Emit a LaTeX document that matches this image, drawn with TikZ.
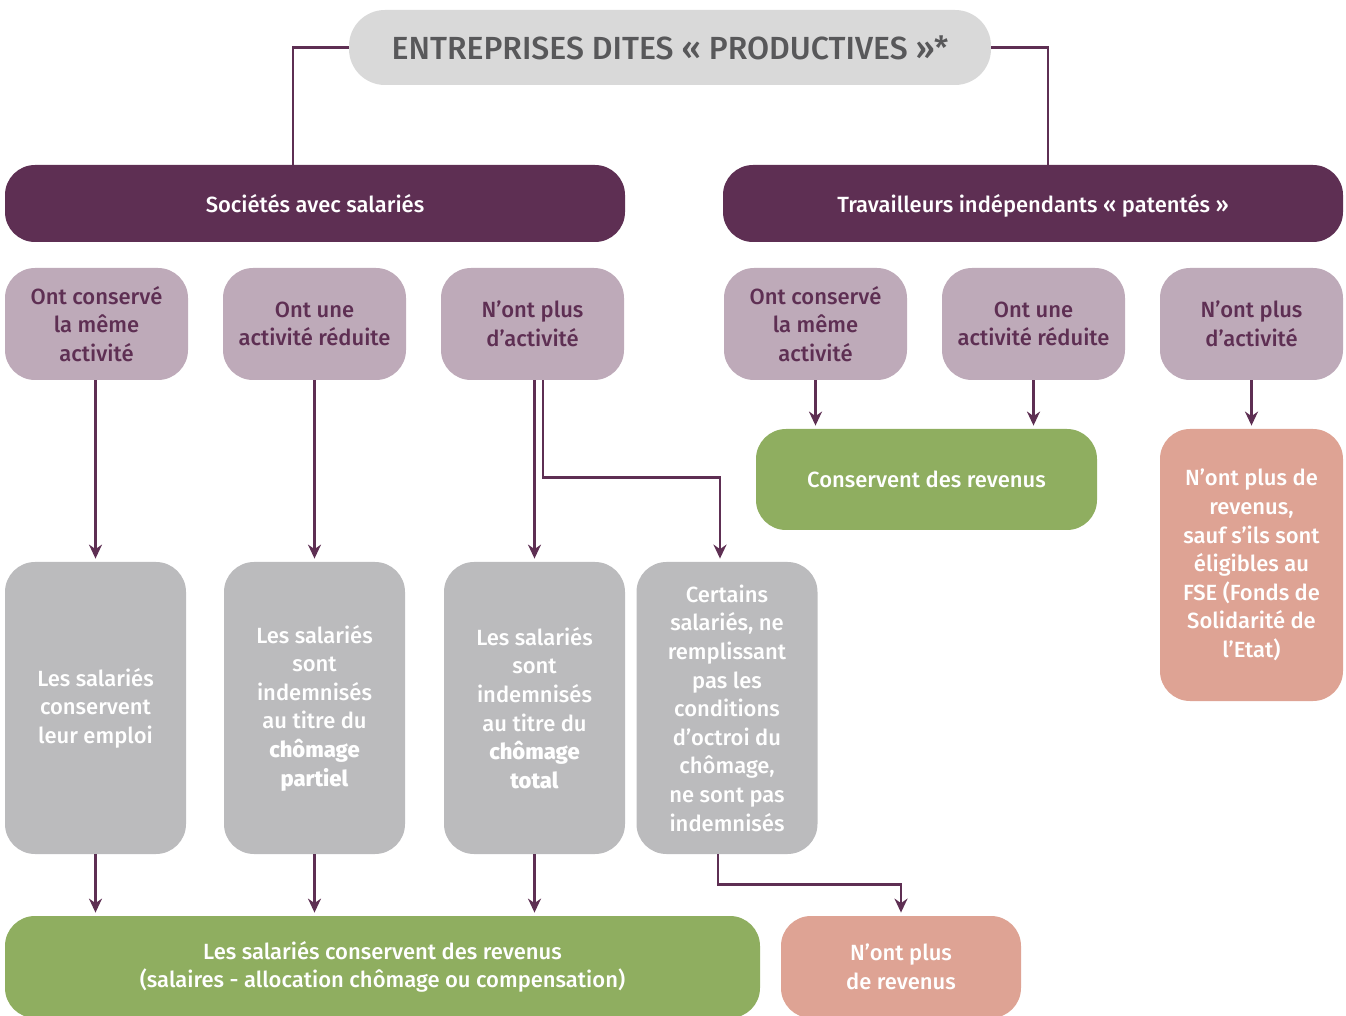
\documentclass[tikz,border=0pt]{standalone}
\usepackage{fontspec}
\setmainfont{Fira Sans}[UprightFont=* Medium, BoldFont=* ExtraBold]
\usetikzlibrary{arrows.meta}
\definecolor{prune}{HTML}{5E2F53}
\definecolor{mauve}{HTML}{BEAAB9}
\definecolor{gris}{HTML}{BBBBBD}
\definecolor{grisclair}{HTML}{D9D9D9}
\definecolor{grisfonce}{HTML}{58585A}
\definecolor{vert}{HTML}{8FAE60}
\definecolor{saumon}{HTML}{DEA394}

\tikzset{
  boite/.style={rounded corners=15pt, align=center, inner sep=2pt,
    font=\fontsize{11}{14.3}\selectfont},
  entete/.style={boite, fill=prune, text=white, minimum width=310pt, minimum height=38.5pt,
    text height=11pt, text depth=2pt},
  cas/.style={boite, fill=mauve, text=prune, minimum width=91.5pt, minimum height=56pt},
  effet/.style={boite, fill=gris, text=white, minimum width=90.5pt, minimum height=146pt},
  revenu/.style={boite, fill=vert, text=white},
  perte/.style={boite, fill=saumon, text=white},
  lien/.style={prune, line width=1.25pt},
  fleche/.style={lien, -{Stealth[length=7pt,width=6.5pt]}, shorten >=1.5pt},
}

\begin{document}
\begin{tikzpicture}[x=0.5pt, y=-0.5pt]
    \clip (0,0) rectangle (1346,1016);

    \node (titre) [boite, fill=grisclair, text=grisfonce, minimum width=321pt, minimum height=37.5pt,
      rounded corners=18pt, font=\fontsize{16}{19}\selectfont] at (670,47.5)
      {ENTREPRISES DITES « PRODUCTIVES »*};

    \node (societes) [entete] at (315,203.5) {Sociétés avec salariés};
    \node (independants) [entete] at (1033,203.5) {Travailleurs indépendants « patentés »};

    \node (meme1) [cas] at (96.5,324) {Ont conservé\\la même\\activité};
    \node (reduite1) [cas] at (314.5,324) {Ont une\\activité réduite};
    \node (arret1) [cas] at (532.5,324) {N’ont plus\\d’activité};
    \node (meme2) [cas] at (815.5,324) {Ont conservé\\la même\\activité};
    \node (reduite2) [cas] at (1033.5,324) {Ont une\\activité réduite};
    \node (arret2) [cas] at (1251.5,324) {N’ont plus\\d’activité};

    \node (emploi) [effet] at (95.5,708) {Les salariés\\conservent\\leur emploi};
    \node (partiel) [effet] at (314.5,708) {Les salariés\\sont\\indemnisés\\au titre du\\\textbf{chômage}\\\textbf{partiel}};
    \node (total) [effet] at (534.5,708) {Les salariés\\sont\\indemnisés\\au titre du\\\textbf{chômage}\\\textbf{total}};
    \node (exclus) [effet] at (727,708) {Certains\\salariés, ne\\remplissant\\pas les\\conditions\\d’octroi du\\chômage,\\ne sont pas\\indemnisés};

    \node (conservent) [revenu, minimum width=170.5pt, minimum height=50.5pt] at (926.5,479.5) {Conservent des revenus};
    \node (fse) [perte, minimum width=91.5pt, minimum height=136pt] at (1251.5,565)
      {N’ont plus de\\revenus,\\sauf s’ils sont\\éligibles au\\FSE (Fonds de\\Solidarité de\\l’Etat)};

    \node (salaires) [revenu, minimum width=377.5pt, minimum height=51pt] at (382.5,967)
      {Les salariés conservent des revenus\\(salaires - allocation chômage ou compensation)};
    \node (sansrevenu) [perte, minimum width=120pt, minimum height=51pt] at (901,967) {N’ont plus\\de revenus};

    % du titre vers les deux familles
    \draw [lien] (titre.west) -| ([xshift=-11pt]societes.north);
    \draw [lien] (titre.east) -| ([xshift=7.5pt]independants.north);

    % societes avec salaries
    \draw [fleche] (meme1.south -| emploi.north) -- (emploi.north);
    \draw [fleche] (reduite1.south) -- (partiel.north);
    \draw [fleche] (arret1.south -| total.north) -- (total.north);
    \draw [fleche] ([xshift=5.25pt]arret1.south) -- ++(0,-48.5pt) -| ([xshift=-3.5pt]exclus.north);

    \draw [fleche] (emploi.south) -- (emploi.south |- salaires.north);
    \draw [fleche] (partiel.south) -- (partiel.south |- salaires.north);
    \draw [fleche] (total.south) -- (total.south |- salaires.north);
    \draw [fleche] ([xshift=-4.5pt]exclus.south) -- ++(0,-15pt) -| (sansrevenu.north);

    % independants
    \draw [fleche] (meme2.south) -- (meme2.south |- conservent.north);
    \draw [fleche] (reduite2.south) -- (reduite2.south |- conservent.north);
    \draw [fleche] (arret2.south) -- (fse.north);
\end{tikzpicture}
\end{document}
